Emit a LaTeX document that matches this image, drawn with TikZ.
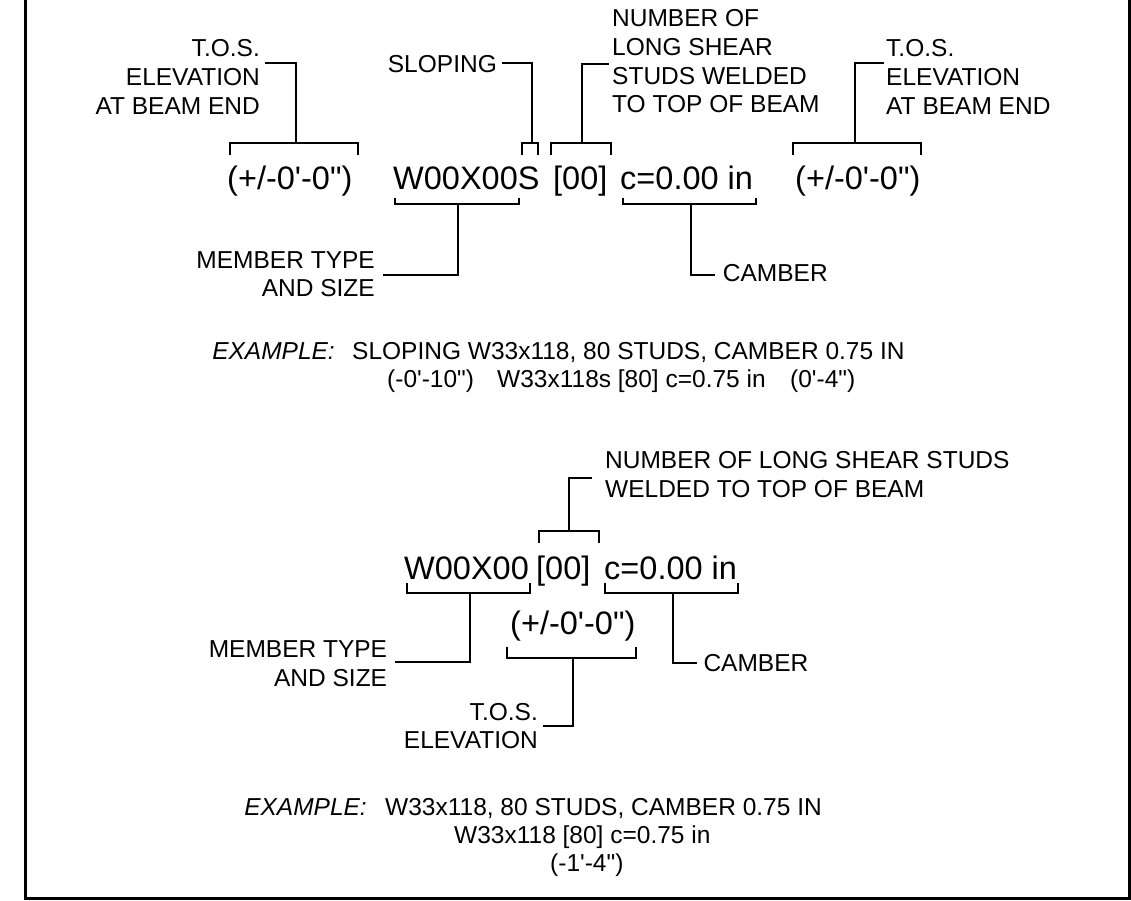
\documentclass[tikz,border=0pt]{standalone}
\usepackage{fontspec}
\setmainfont{Liberation Sans}
\newcommand\qS{\textquotesingle}
\newcommand\qD{\textquotedbl}
\newcommand\rtab[1]{\begin{tabular}[t]{@{}r@{}}#1\end{tabular}}
\newcommand\ltab[1]{\begin{tabular}[t]{@{}l@{}}#1\end{tabular}}
\tikzset{
  lbl/.style={inner sep=0pt, font=\fontsize{24.5}{28.7}\selectfont},
  big/.style={inner sep=0pt, font=\fontsize{32.5}{38}\selectfont},
  ex/.style={inner sep=0pt, font=\fontsize{24.5}{28.6}\selectfont},
  ld/.style={line width=2pt, line join=miter},
  frame/.style={line width=2.6pt, line join=miter},
}
\begin{document}
\begin{tikzpicture}[x=1pt,y=-1pt]
\useasboundingbox (0,0) rectangle (1131,901);
% frame
\draw[frame] (25.3,-5) -- (25.3,898.3) -- (1129.3,898.3) -- (1129.3,-5);

% ---------- top notation ----------
\node[big,anchor=base west] (elL) at (227,190) {(+/-0\qS-0\qD)};
\node[big,anchor=base west] (mtS) at (393,190) {W00X00S};
\node[big,anchor=base west] (stS) at (553,190) {[00]};
\node[big,anchor=base west] (cS)  at (620,190) {c=0.00 in};
\node[big,anchor=base west] (elR) at (795,190) {(+/-0\qS-0\qD)};

% left T.O.S.
\node[lbl,anchor=base east] (tosL) at (260,57) {\rtab{T.O.S.\\ELEVATION\\AT BEAM END}};
\coordinate (tosLa) at (265,62.7);
\coordinate (elLb) at (296,143);
\draw[ld] (tosLa) -| (elLb);
\draw[ld] (230,155) -- (230,143) -- (358,143) -- (358,155);

% sloping
\node[lbl,anchor=base east] (slp) at (497,72.7) {SLOPING};
\coordinate (slpa) at (501.7,62.7);
\coordinate (slpb) at (531.7,143);
\draw[ld] (slpa) -| (slpb);
\draw[ld] (522,155) -- (522,143) -- (537.7,143) -- (537.7,155);

% studs
\node[lbl,anchor=base west] (nst) at (612,26.7) {\ltab{NUMBER OF\\LONG SHEAR\\STUDS WELDED\\TO TOP OF BEAM}};
\coordinate (nsta) at (609,64);
\coordinate (nstb) at (581.7,143);
\draw[ld] (nsta) -| (nstb);
\draw[ld] (550.7,155) -- (550.7,143) -- (610.7,143) -- (610.7,155);

% right T.O.S.
\node[lbl,anchor=base west] (tosR) at (886,57) {\ltab{T.O.S.\\ELEVATION\\AT BEAM END}};
\coordinate (tosRa) at (884,62.7);
\coordinate (elRb) at (855,143);
\draw[ld] (tosRa) -| (elRb);
\draw[ld] (792.7,155) -- (792.7,143) -- (921,143) -- (921,155);

% member type
\draw[ld] (395,198) -- (395,204) -- (519,204) -- (519,198);
\node[lbl,anchor=base east] (mtL) at (375,268) {\rtab{MEMBER TYPE\\AND SIZE}};
\coordinate (mta) at (458,204);
\coordinate (mtb) at (382.7,275);
\draw[ld] (mta) |- (mtb);

% camber
\draw[ld] (622.7,198) -- (622.7,204) -- (756,204) -- (756,198);
\node[lbl,anchor=base west] (cmL) at (722.7,281.7) {CAMBER};
\coordinate (cma) at (691,204);
\coordinate (cmb) at (715,275);
\draw[ld] (cma) |- (cmb);

% example 1
\node[ex,anchor=base east] (ex1) at (335,359) {\itshape EXAMPLE:};
\node[ex,anchor=base west] (ex1a) at (352,359) {SLOPING W33x118, 80 STUDS, CAMBER 0.75 IN};
\node[ex,anchor=base west] (ex1b) at (387,387.6) {(-0\qS-10\qD)};
\node[ex,anchor=base west] (ex1c) at (497,387.6) {W33x118s [80] c=0.75 in};
\node[ex,anchor=base west] (ex1d) at (790,387.6) {(0\qS-4\qD)};

% ---------- bottom notation ----------
\node[big,anchor=base west] (mt2) at (404,579.3) {W00X00};
\node[big,anchor=base west] (st2) at (536,579.3) {[00]};
\node[big,anchor=base west] (c2)  at (604,579.3) {c=0.00 in};
\node[big,anchor=base west] (el2) at (510,634.5) {(+/-0\qS-0\qD)};

% studs
\node[lbl,anchor=base west] (nst2) at (605,468.3) {\ltab{NUMBER OF LONG SHEAR STUDS\\WELDED TO TOP OF BEAM}};
\coordinate (nst2a) at (592,478.3);
\coordinate (nst2b) at (569,531);
\draw[ld] (nst2a) -| (nst2b);
\draw[ld] (539,543) -- (539,531) -- (599,531) -- (599,543);

% member type
\draw[ld] (406.7,583) -- (406.7,593.3) -- (530,593.3) -- (530,583);
\node[lbl,anchor=base east] (mt2L) at (387.3,657.3) {\rtab{MEMBER TYPE\\AND SIZE}};
\coordinate (mt2a) at (470,593.3);
\coordinate (mt2b) at (395,662.3);
\draw[ld] (mt2a) |- (mt2b);

% camber
\draw[ld] (605,583) -- (605,593.3) -- (738.3,593.3) -- (738.3,583);
\node[lbl,anchor=base west] (cm2L) at (703.3,671.7) {CAMBER};
\coordinate (cm2a) at (672.5,593.3);
\coordinate (cm2b) at (696.7,662.7);
\draw[ld] (cm2a) |- (cm2b);

% T.O.S. elevation
\draw[ld] (506.7,646.7) -- (506.7,658.3) -- (635.7,658.3) -- (635.7,646.7);
\node[lbl,anchor=base east] (tos2) at (538,720) {\rtab{T.O.S.\\ELEVATION}};
\coordinate (tos2a) at (573.3,658.3);
\coordinate (tos2b) at (543.3,726);
\draw[ld] (tos2a) |- (tos2b);

% example 2
\node[ex,anchor=base east] (ex2) at (367,815) {\itshape EXAMPLE:};
\node[ex,anchor=base west] (ex2a) at (385,815) {W33x118, 80 STUDS, CAMBER 0.75 IN};
\node[ex,anchor=base west] (ex2b) at (454,843.3) {W33x118 [80] c=0.75 in};
\node[ex,anchor=base west] (ex2c) at (550,871.7) {(-1\qS-4\qD)};
\end{tikzpicture}
\end{document}
